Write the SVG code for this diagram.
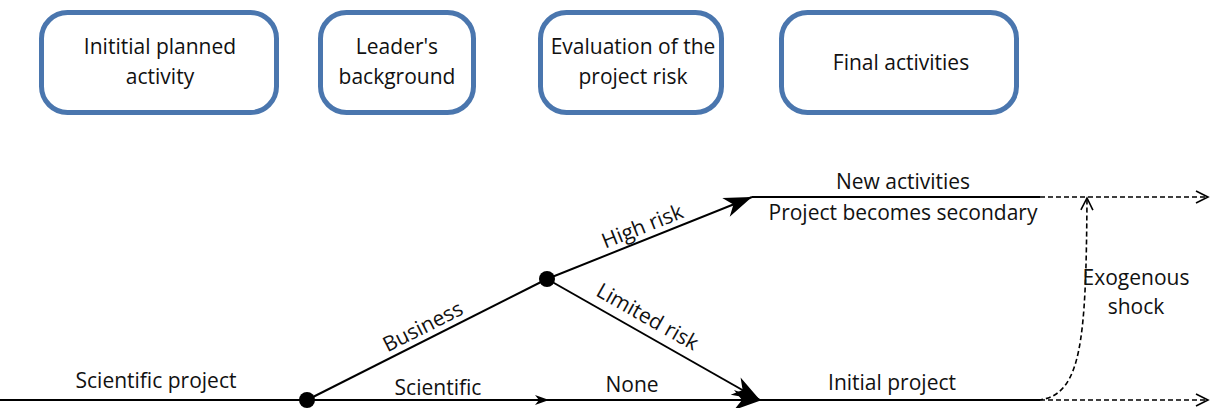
<svg xmlns="http://www.w3.org/2000/svg" width="1212" height="408" viewBox="0 0 1212 408">
<style>
.box{fill:#fff;stroke:#4a76ae;stroke-width:5}
.t{font-family:"Open Sans","Liberation Sans",sans-serif;font-size:21px;fill:#111;text-anchor:middle}
.ln{stroke:#000;stroke-width:2;fill:none}
.dash{stroke:#000;stroke-width:1.6;fill:none;stroke-dasharray:5,3}
</style>
<defs>
<marker id="big" markerUnits="userSpaceOnUse" viewBox="-30 -12 32 24" refX="0" refY="0" markerWidth="32" markerHeight="24" orient="auto">
<path d="M0,0 L-28,-10 L-20,0 L-28,10 Z" fill="#000"/>
</marker>
<marker id="small" markerUnits="userSpaceOnUse" viewBox="-16 -6 18 12" refX="0" refY="0" markerWidth="18" markerHeight="12" orient="auto">
<path d="M0,0 L-14,-5 L-10,0 L-14,5 Z" fill="#000"/>
</marker>
<marker id="open" markerUnits="userSpaceOnUse" viewBox="-16 -8 18 16" refX="0" refY="0" markerWidth="18" markerHeight="16" orient="auto">
<path d="M-12,-6 L0,0 L-12,6" fill="none" stroke="#000" stroke-width="1.6"/>
</marker>
</defs>
<g id="node-initial">
<rect class="box" x="41.5" y="12.5" width="235" height="100" rx="26"/>
<text class="t" x="160" y="54">Inititial planned</text>
<text class="t" x="160" y="84">activity</text>
</g>
<g id="node-leader">
<rect class="box" x="320.5" y="12.5" width="153" height="100" rx="26"/>
<text class="t" x="397" y="54">Leader's</text>
<text class="t" x="397" y="84">background</text>
</g>
<g id="node-evaluation">
<rect class="box" x="540.5" y="12.5" width="181" height="100" rx="26"/>
<text class="t" x="633" y="54">Evaluation of the</text>
<text class="t" x="633" y="84">project risk</text>
</g>
<g id="node-final">
<rect class="box" x="781.5" y="12.5" width="235" height="100" rx="26"/>
<text class="t" x="901" y="70">Final activities</text>
</g>
<g id="connectors">
<line class="ln" x1="0" y1="400" x2="307" y2="400"/>
<line class="ln" x1="307" y1="400" x2="549" y2="400" marker-end="url(#small)"/>
<line class="ln" x1="549" y1="400" x2="762" y2="400" marker-end="url(#big)"/>
<line class="ln" x1="762" y1="400" x2="1040" y2="400"/>
<line class="dash" x1="1040" y1="400" x2="1208" y2="400" marker-end="url(#open)"/>
<line class="ln" x1="307" y1="400" x2="547" y2="279"/>
<line class="ln" x1="547" y1="279" x2="752" y2="197" marker-end="url(#big)"/>
<line class="ln" x1="547" y1="279" x2="760" y2="400" marker-end="url(#big)"/>
<line class="ln" x1="752" y1="197" x2="1040" y2="197"/>
<line class="dash" x1="1040" y1="197" x2="1208" y2="197" marker-end="url(#open)"/>
<path class="dash" d="M1038,400 C1082,396 1086,340 1087,198" marker-end="url(#open)"/>
<circle cx="307" cy="400" r="8" fill="#000"/>
<circle cx="547" cy="279" r="8" fill="#000"/>
</g>
<g id="labels">
<text class="t" x="156" y="388">Scientific project</text>
<text class="t" x="438" y="395">Scientific</text>
<text class="t" x="632" y="392">None</text>
<text class="t" x="892" y="390">Initial project</text>
<text class="t" x="903" y="189">New activities</text>
<text class="t" x="903" y="220">Project becomes secondary</text>
<text class="t" x="1136" y="285">Exogenous</text>
<text class="t" x="1136" y="314">shock</text>
<text class="t" transform="translate(426,333) rotate(-26.8)">Business</text>
<text class="t" transform="translate(645,233) rotate(-21.8)">High risk</text>
<text class="t" transform="translate(644,323) rotate(29.6)">Limited risk</text>
</g>
</svg>
